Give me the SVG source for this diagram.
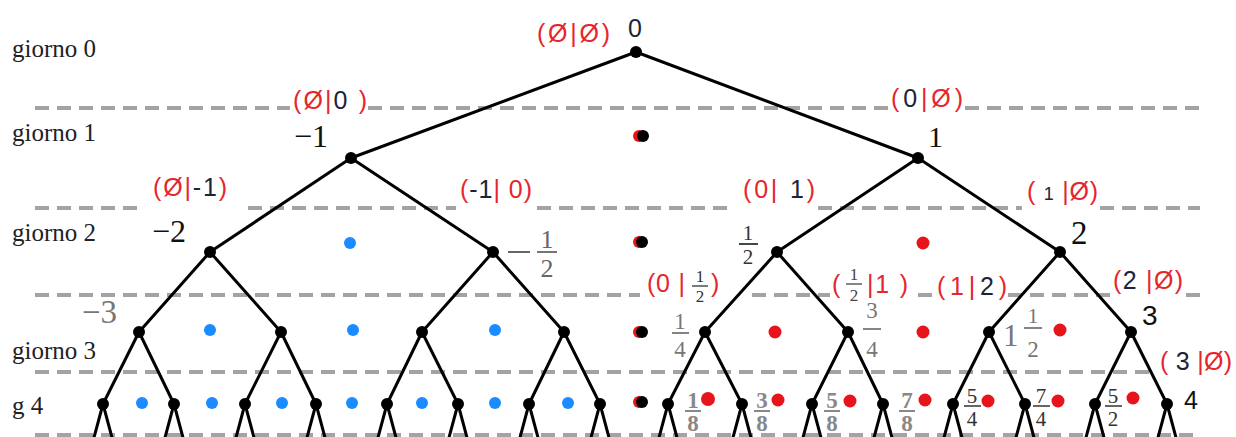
<svg xmlns="http://www.w3.org/2000/svg" width="1236" height="437" viewBox="0 0 1236 437">
<style>
text{font-family:"Liberation Serif","Times New Roman","DejaVu Serif","Noto Serif",serif}
.dash{stroke:#a3a3a3;stroke-width:4;stroke-dasharray:14 8;fill:none}
.edge{stroke:#000;stroke-width:3;fill:none;stroke-linecap:round}
.nd{fill:#000}
.day{font-size:25px;fill:#222}
.num{fill:#111}
.sans{font-family:"Liberation Sans",Arial,sans-serif}
.gr{fill:#777}
.lab{font-family:"Liberation Sans",Arial,sans-serif;font-size:25px;fill:#e5262c}
.k{fill:#1c2438}
.fr{text-anchor:middle}
.blue{fill:#1a8cff}
.red{fill:#e8141c}
.bar{stroke-width:1.8}
</style>
<rect width="1236" height="437" fill="#fff"/>
<g id="grid">
<path class="dash" d="M35 108H290M368 108H888M965 108H1200"/>
<path class="dash" d="M35 208H138M248 208H456M537 208H735M818 208H1022M1100 208H1200"/>
<path class="dash" d="M35 295H640M752 295H830M918 295H932M1008 295H1112M1186 295H1200"/>
<path class="dash" d="M35 372H1155"/>
<path class="dash" d="M35 435H1200"/>
</g>
<g id="days">
<text class="day" x="12" y="57">giorno 0</text>
<text class="day" x="12" y="141">giorno 1</text>
<text class="day" x="12" y="241">giorno 2</text>
<text class="day" x="12" y="359">giorno 3</text>
<text class="day" x="12" y="414">g 4</text>
</g>
<g id="connectors">
<path class="edge" d="M636 52L351 158M636 52L918 158"/>
<path class="edge" d="M351 158L210 252M351 158L493 252M918 158L777 252M918 158L1060 252"/>
<path class="edge" d="M210 252L139 332M210 252L281 332M493 252L422 332M493 252L564 332M777 252L705 332M777 252L848 332M1060 252L989 332M1060 252L1131 332"/>
<path class="edge" d="M139 332L103 404M139 332L174 404M281 332L245 404M281 332L316 404M422 332L387 404M422 332L458 404M564 332L529 404M564 332L600 404M705 332L668 404M705 332L742 404M848 332L812 404M848 332L883 404M989 332L953 404M989 332L1025 404M1131 332L1095 404M1131 332L1167 404"/>
<path class="edge" d="M103 404L92 445M103 404L114 445M174 404L163 445M174 404L185 445M245 404L234 445M245 404L256 445M316 404L305 445M316 404L327 445M387 404L376 445M387 404L398 445M458 404L447 445M458 404L469 445M529 404L518 445M529 404L540 445M600 404L589 445M600 404L611 445M668 404L657 445M668 404L679 445M742 404L731 445M742 404L753 445M812 404L801 445M812 404L823 445M883 404L872 445M883 404L894 445M953 404L942 445M953 404L964 445M1025 404L1014 445M1025 404L1036 445M1095 404L1084 445M1095 404L1106 445M1167 404L1156 445M1167 404L1178 445"/>
</g>
<g id="n0"><circle class="nd" cx="636" cy="52" r="6"/>
<text class="num k sans" x="628" y="37" font-size="25">0</text>
<text class="lab" x="537" y="42" textLength="73">(Ø|Ø)</text></g>
<g id="n-1"><circle class="nd" cx="351" cy="158" r="6"/>
<text class="num" x="294" y="147" font-size="32">−1</text>
<text class="lab" x="293" y="109" font-size="27" textLength="74">(Ø|<tspan class="k">0</tspan> )</text></g>
<g id="n1"><circle class="nd" cx="918" cy="158" r="6"/>
<text class="num" x="928" y="147" font-size="30">1</text>
<text class="lab" x="891" y="107" font-size="27" textLength="72">(<tspan class="k">0</tspan>|Ø)</text></g>
<g id="n-2"><circle class="nd" cx="210" cy="252" r="6"/>
<text class="num" x="152" y="242" font-size="32">−2</text>
<text class="lab" x="153" y="196" textLength="74">(Ø|<tspan class="k">-1</tspan>)</text></g>
<g id="n-half"><circle class="nd" cx="493" cy="252" r="6"/>
<line x1="508" y1="252" x2="530" y2="252" stroke="#666" stroke-width="2"/>
<text class="fr" x="547" y="248" font-size="26" fill="#666">1</text>
<line x1="537" y1="252" x2="557" y2="252" stroke="#666" stroke-width="1.8"/>
<text class="fr" x="547" y="277" font-size="26" fill="#666">2</text>
<text class="lab" x="460" y="198" textLength="72">(<tspan class="k">-1</tspan>| 0)</text></g>
<g id="nhalf"><circle class="nd" cx="777" cy="252" r="6"/>
<text class="fr" x="748" y="240" font-size="21" fill="#333">1</text>
<line class="bar" x1="739" y1="244" x2="758" y2="244" stroke="#333"/>
<text class="fr" x="748" y="264" font-size="21" fill="#333">2</text>
<text class="lab" x="743" y="198" textLength="72">(0| <tspan class="k">1</tspan>)</text></g>
<g id="n2"><circle class="nd" cx="1060" cy="252" r="6"/>
<text class="num" x="1071" y="244" font-size="33">2</text>
<text class="lab" x="1027" y="200" textLength="71">( <tspan class="k" font-size="18">1</tspan> |Ø)</text></g>
<g id="n-3"><circle class="nd" cx="139" cy="332" r="6"/>
<text class="gr" x="82" y="323" font-size="33">−3</text></g>
<g id="n-3half"><circle class="nd" cx="281" cy="332" r="6"/></g>
<g id="n-3q"><circle class="nd" cx="422" cy="332" r="6"/></g>
<g id="n-1q"><circle class="nd" cx="564" cy="332" r="6"/></g>
<g id="nq"><circle class="nd" cx="705" cy="332" r="6"/>
<text class="fr" x="680" y="329" font-size="23" fill="#777">1</text>
<line class="bar" x1="672" y1="333" x2="689" y2="333" stroke="#777"/>
<text class="fr" x="680" y="357" font-size="23" fill="#777">4</text>
<text class="lab" x="647" y="292" textLength="38">(0 |</text>
<text class="fr" x="700" y="282" font-size="17" fill="#333">1</text>
<line x1="692" y1="286" x2="708" y2="286" stroke="#333" stroke-width="1.3"/>
<text class="fr" x="700" y="302" font-size="17" fill="#333">2</text>
<text class="lab" x="711" y="292">)</text></g>
<g id="n3q"><circle class="nd" cx="848" cy="332" r="6"/>
<text class="fr" x="872" y="318" font-size="23" fill="#777">3</text>
<line class="bar" x1="863" y1="329" x2="881" y2="329" stroke="#777"/>
<text class="fr" x="872" y="357" font-size="23" fill="#777">4</text>
<text class="lab" x="832" y="293">(</text>
<text class="fr" x="854" y="280" font-size="17" fill="#444">1</text>
<line x1="846" y1="284" x2="862" y2="284" stroke="#444" stroke-width="1.3"/>
<text class="fr" x="854" y="301" font-size="17" fill="#444">2</text>
<text class="lab" x="867" y="293" textLength="41">|1 )</text>
<text class="lab" x="937" y="295" textLength="70">(1|<tspan class="k">2</tspan>)</text></g>
<g id="n1half"><circle class="nd" cx="989" cy="332" r="6"/>
<text class="gr" x="1003" y="346" font-size="31">1</text>
<text class="fr" x="1033" y="323" font-size="21" fill="#777">1</text>
<line class="bar" x1="1024" y1="328" x2="1042" y2="328" stroke="#777"/>
<text class="fr" x="1033" y="357" font-size="23" fill="#777">2</text>
<text class="lab" x="1113" y="289" textLength="70">(<tspan class="k">2</tspan> |Ø)</text></g>
<g id="n3"><circle class="nd" cx="1131" cy="332" r="6"/>
<text class="num sans" x="1142" y="325" font-size="28">3</text>
<text class="lab" x="1160" y="370" textLength="72">( <tspan class="k">3</tspan> |Ø)</text></g>
<g id="leaves">
<circle class="nd" cx="103" cy="404" r="6"/><circle class="nd" cx="174" cy="404" r="6"/>
<circle class="nd" cx="245" cy="404" r="6"/><circle class="nd" cx="316" cy="404" r="6"/>
<circle class="nd" cx="387" cy="404" r="6"/><circle class="nd" cx="458" cy="404" r="6"/>
<circle class="nd" cx="529" cy="404" r="6"/><circle class="nd" cx="600" cy="404" r="6"/>
<circle class="nd" cx="668" cy="404" r="6"/><circle class="nd" cx="742" cy="404" r="6"/>
<circle class="nd" cx="812" cy="404" r="6"/><circle class="nd" cx="883" cy="404" r="6"/>
<circle class="nd" cx="953" cy="404" r="6"/><circle class="nd" cx="1025" cy="404" r="6"/>
<circle class="nd" cx="1095" cy="404" r="6"/><circle class="nd" cx="1167" cy="404" r="6"/>
<text class="num sans" x="1184" y="409" font-size="25">4</text>
</g>
<g id="leaf-fractions">
<g fill="#888" font-size="23" font-weight="bold" class="fr">
<text x="693" y="408">1</text><text x="693" y="431">8</text>
<text x="762" y="408">3</text><text x="762" y="431">8</text>
<text x="832" y="408">5</text><text x="832" y="431">8</text>
<text x="907" y="408">7</text><text x="907" y="431">8</text>
</g>
<path d="M685 411H701M754 411H770M824 411H840M899 411H915" stroke="#888" stroke-width="1.8"/>
<g fill="#333" font-size="21" class="fr">
<text x="972" y="403">5</text><text x="972" y="426">4</text>
<text x="1041" y="403">7</text><text x="1041" y="426">4</text>
<text x="1113" y="403">5</text><text x="1113" y="426">2</text>
</g>
<path d="M964 406H981M1033 406H1050M1105 406H1122" stroke="#333" stroke-width="1.6"/>
</g>
<g id="dots">
<circle class="red" cx="639" cy="136" r="6"/><circle class="nd" cx="643" cy="136" r="6"/>
<circle class="red" cx="639" cy="242" r="6"/><circle class="nd" cx="642" cy="242" r="6"/>
<circle class="red" cx="639" cy="332" r="6"/><circle class="nd" cx="642" cy="332" r="6"/>
<circle class="red" cx="639" cy="402" r="6"/><circle class="nd" cx="642" cy="402" r="6"/>
<circle class="blue" cx="350" cy="243" r="6"/>
<circle class="blue" cx="210" cy="330" r="6"/><circle class="blue" cx="353" cy="330" r="6"/><circle class="blue" cx="495" cy="330" r="6"/>
<circle class="blue" cx="142" cy="403" r="6"/><circle class="blue" cx="212" cy="403" r="6"/><circle class="blue" cx="282" cy="403" r="6"/><circle class="blue" cx="352" cy="403" r="6"/><circle class="blue" cx="422" cy="403" r="6"/><circle class="blue" cx="495" cy="403" r="6"/><circle class="blue" cx="568" cy="403" r="6"/>
<circle class="red" cx="923" cy="243" r="6.5"/>
<circle class="red" cx="775" cy="332" r="6.5"/><circle class="red" cx="923" cy="332" r="6.5"/><circle class="red" cx="1060" cy="330" r="6.5"/>
<circle class="red" cx="708" cy="399" r="7"/><circle class="red" cx="778" cy="400" r="6.5"/><circle class="red" cx="850" cy="401" r="6.5"/><circle class="red" cx="925" cy="400" r="6.5"/><circle class="red" cx="988" cy="401" r="6.5"/><circle class="red" cx="1058" cy="401" r="6.5"/><circle class="red" cx="1133" cy="398" r="6.5"/>
</g>
</svg>
